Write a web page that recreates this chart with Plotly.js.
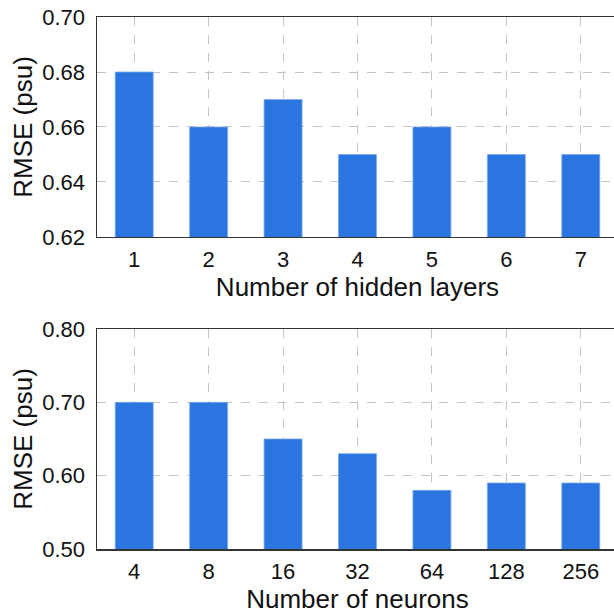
<!DOCTYPE html>
<html>
<head>
<meta charset="utf-8">
<script src="https://cdn.plot.ly/plotly-3.0.1.min.js"></script>
<style>
html,body{margin:0;padding:0;overflow:hidden;background:#fff;}
#chart{width:622px;height:616px;}
</style>
</head>
<body>
<div id="chart"></div>
<script>
const layersCats = ["1","2","3","4","5","6","7"];
const layersRMSE = [0.68, 0.66, 0.67, 0.65, 0.66, 0.65, 0.65];
const neuronCats = ["4","8","16","32","64","128","256"];
const neuronRMSE = [0.70, 0.70, 0.65, 0.63, 0.58, 0.59, 0.59];
const topTicks = [0.62, 0.64, 0.66, 0.68, 0.70];
const bottomTicks = [0.50, 0.60, 0.70, 0.80];

const barColor = '#2a75df';
const fontFam = 'Liberation Sans, Arial, sans-serif';
const tickSize = 22;
const titleSize = 26;

const traces = [
  {type:'bar', x:layersCats, y:layersRMSE, xaxis:'x', yaxis:'y',
   marker:{color:barColor, line:{color:'#7aa8ec', width:0.8}}, hoverinfo:'skip'},
  {type:'bar', x:neuronCats, y:neuronRMSE, xaxis:'x2', yaxis:'y2',
   marker:{color:barColor, line:{color:'#7aa8ec', width:0.8}}, hoverinfo:'skip'}
];

const axisCommon = {
  showline:true, linecolor:'#333', linewidth:1.5, mirror:true,
  showgrid:true, gridcolor:'#c4c4c4', griddash:'dash', gridwidth:1,
  ticks:'', zeroline:false,
  tickfont:{family:fontFam, size:tickSize, color:'#111'}
};

const titleFont = {family:fontFam, size:titleSize, color:'#111'};

const layout = {
  width:622, height:616,
  margin:{l:97, r:4, t:17, b:67},
  paper_bgcolor:'#fff', plot_bgcolor:'#fff',
  showlegend:false,
  bargap:0.49,
  font:{family:fontFam, color:'#111'},
  xaxis:Object.assign({}, axisCommon, {
    type:'category', anchor:'y', domain:[0,1],
    range:[-0.5, 6.5], ticklabelstandoff:2,
    title:{text:'Number of hidden layers', font:titleFont, standoff:2}
  }),
  yaxis:Object.assign({}, axisCommon, {
    anchor:'x', domain:[0.5865, 1], range:[0.62, 0.70],
    tickvals:topTicks, ticktext:topTicks.map(v=>v.toFixed(2)),
    ticklabelstandoff:6,
    title:{text:'RMSE (psu)', font:titleFont, standoff:2}
  }),
  xaxis2:Object.assign({}, axisCommon, {
    type:'category', anchor:'y2', domain:[0,1],
    range:[-0.5, 6.5], ticklabelstandoff:2,
    title:{text:'Number of neurons', font:titleFont, standoff:2}
  }),
  yaxis2:Object.assign({}, axisCommon, {
    anchor:'x2', domain:[0, 0.4135], range:[0.50, 0.80],
    tickvals:bottomTicks, ticktext:bottomTicks.map(v=>v.toFixed(2)),
    ticklabelstandoff:6,
    title:{text:'RMSE (psu)', font:titleFont, standoff:2}
  })
};

Plotly.newPlot('chart', traces, layout, {staticPlot:true, displayModeBar:false});
</script>
</body>
</html>
